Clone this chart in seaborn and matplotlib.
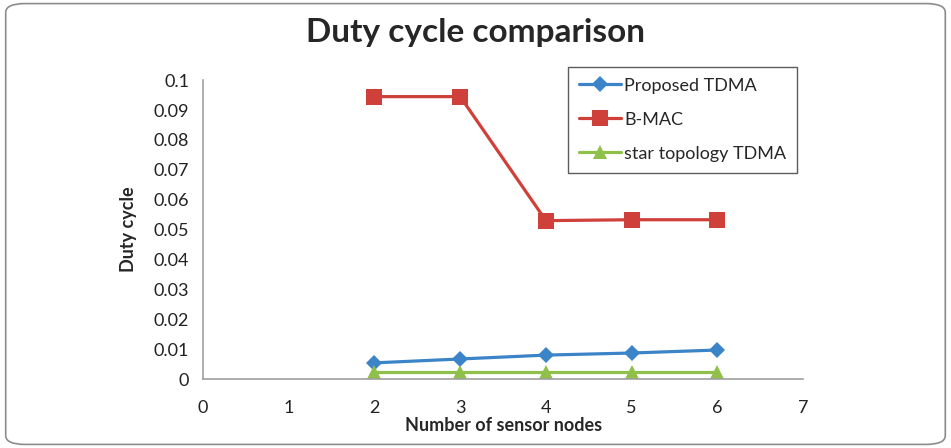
import numpy as np
import pandas as pd
import matplotlib
matplotlib.use("Agg")
import matplotlib.pyplot as plt
import seaborn as sns
from matplotlib.patches import FancyBboxPatch

nodes = [2, 3, 4, 5, 6]
proposed_tdma = [0.0054, 0.0067, 0.0080, 0.0087, 0.0097]
b_mac = [0.0945, 0.0945, 0.0530, 0.0533, 0.0533]
star_tdma = [0.0023, 0.0023, 0.0023, 0.0023, 0.0023]
series_names = ["Proposed TDMA", "B-MAC", "star topology TDMA"]

df = pd.DataFrame({
    "nodes": nodes * 3,
    "duty": proposed_tdma + b_mac + star_tdma,
    "series": [series_names[0]] * 5 + [series_names[1]] * 5 + [series_names[2]] * 5,
})

sns.set_style("white")
plt.rcParams['font.family'] = ['Lato', 'DejaVu Sans']

fig = plt.figure(figsize=(9.51, 4.48), dpi=100)
ax = fig.add_axes([0.2135, 0.154, 0.631, 0.667])

palette = {"Proposed TDMA": "#3c84c8", "B-MAC": "#d0403a", "star topology TDMA": "#8fc04a"}
markers = {"Proposed TDMA": "D", "B-MAC": "s", "star topology TDMA": "^"}
sizes = {"Proposed TDMA": 8, "B-MAC": 11, "star topology TDMA": 10}

for name in series_names:
    sub = df[df["series"] == name]
    sns.lineplot(data=sub, x="nodes", y="duty", ax=ax, color=palette[name],
                 marker=markers[name], markersize=sizes[name], linewidth=2.3,
                 markeredgewidth=0, label=name)

ax.set_xlim(0, 7)
ax.set_ylim(0, 0.1)
ax.set_xticks(range(0, 8))
ax.set_yticks(np.arange(0, 0.101, 0.01))
ax.set_yticklabels(["0", "0.01", "0.02", "0.03", "0.04", "0.05", "0.06", "0.07", "0.08", "0.09", "0.1"])
ax.tick_params(axis="both", length=0, labelsize=13, colors="#222222", pad=10)
ax.tick_params(axis="x", pad=15)
for s in ["top", "right"]:
    ax.spines[s].set_visible(False)
for s in ["left", "bottom"]:
    ax.spines[s].set_color("#a0a0a0")
    ax.spines[s].set_linewidth(1.2)

ax.set_xlabel("Number of sensor nodes", fontsize=13, fontweight="bold", labelpad=1)
ax.set_ylabel("Duty cycle", fontsize=13, fontweight="bold", labelpad=12)
fig.suptitle("Duty cycle comparison", fontsize=24, fontweight="bold", y=0.96)

leg = ax.legend(loc="upper right", bbox_to_anchor=(1.005, 1.075), frameon=True, fancybox=False,
                fontsize=13, handlelength=2.3, handletextpad=0.2, labelspacing=1.0,
                borderpad=0.6, edgecolor="#333333")
leg.get_frame().set_linewidth(1.0)

frame = FancyBboxPatch((0.006, 0.008), 0.988, 0.984, boxstyle="round,pad=0,rounding_size=0.02",
                       transform=fig.transFigure, fill=False, edgecolor="#8c8c8c", linewidth=1.2)
fig.patches.append(frame)

fig.savefig("out.png", dpi=100)
